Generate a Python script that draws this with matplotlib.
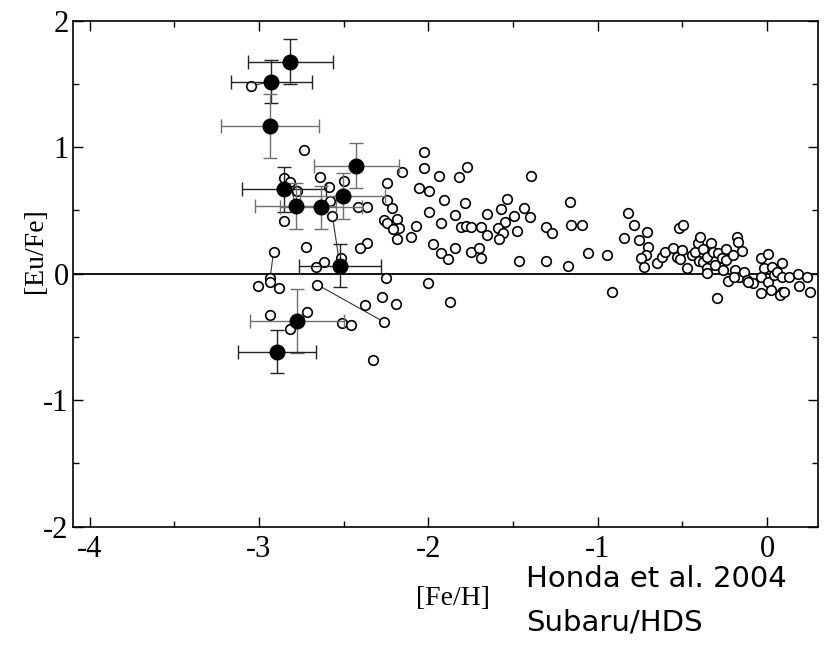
import matplotlib
matplotlib.use("Agg")
import matplotlib.pyplot as plt
from matplotlib.ticker import MultipleLocator
import numpy as np

plt.rcParams['axes.unicode_minus'] = False

# ---- data: open circles (literature sample) ----
open_x = [-3.047, -2.735, -2.154, -2.024, -2.024, -1.935, -2.056, -1.997, -1.906, -1.997,
          -2.243, -2.243, -2.217, -2.641, -2.497, -2.586, -2.853, -2.816, -2.775, -1.922,
          -1.975, -1.922, -1.882, -2.264, -2.246, -2.183, -2.173, -2.210, -2.183, -2.105,
          -2.074, -2.361, -2.404, -2.414, -2.361, -2.582, -2.566, -2.853, -2.725, -2.914,
          -2.517, -2.616, -2.665, -2.934, -2.934, -3.005, -2.883, -2.655, -2.252, -2.004,
          -2.276, -2.193, -2.374, -2.264, -2.716, -2.936, -2.815, -2.507, -2.454, -2.326,
          -1.870,
          -1.774, -1.817, -1.394, -1.785, -1.535, -1.843, -1.652, -1.573, -1.435, -1.492,
          -1.400, -1.546, -1.807, -1.777, -1.748, -1.689, -1.590, -1.561, -1.652, -1.581,
          -1.479, -1.843, -1.748, -1.700, -1.689, -1.465, -1.305, -1.271, -1.163, -1.157,
          -1.094, -1.305, -1.173, -1.055, -0.946, -0.822, -0.783, -0.844, -0.753, -0.710,
          -0.700, -0.714, -0.746, -0.725, -0.913,
          -0.651, -0.621, -0.602, -0.556, -0.532, -0.503, -0.513, -0.517, -0.493, -0.474,
          -0.444, -0.424, -0.405, -0.395, -0.400, -0.380, -0.380, -0.353, -0.333, -0.321,
          -0.353, -0.356, -0.307, -0.287, -0.267, -0.294, -0.262, -0.243, -0.243, -0.229,
          -0.203, -0.179, -0.173, -0.150, -0.189, -0.163, -0.134, -0.196, -0.120, -0.080,
          -0.110, -0.037, 0.008, -0.020, -0.034, -0.034, 0.008, 0.023, 0.029, 0.039,
          0.058, 0.088, 0.088, 0.088, 0.078, 0.098, 0.128, 0.182, 0.187, 0.236, 0.256]
open_y = [1.486, 0.978, 0.806, 0.964, 0.838, 0.775, 0.675, 0.654, 0.583, 0.488,
          0.715, 0.583, 0.522, 0.767, 0.733, 0.688, 0.754, 0.722, 0.656, 0.398,
          0.235, 0.166, 0.116, 0.424, 0.403, 0.432, 0.364, 0.351, 0.277, 0.292,
          0.375, 0.245, 0.206, 0.527, 0.527, 0.575, 0.456, 0.417, 0.213, 0.171,
          0.126, 0.092, 0.055, -0.032, -0.068, -0.095, -0.116, -0.087, -0.034, -0.076,
          -0.184, -0.237, -0.248, -0.380, -0.300, -0.326, -0.440, -0.392, -0.408, -0.685,
          -0.226,
          0.846, 0.767, 0.775, 0.561, 0.593, 0.464, 0.472, 0.509, 0.517, 0.456,
          0.446, 0.409, 0.367, 0.377, 0.367, 0.372, 0.359, 0.324, 0.306, 0.272,
          0.338, 0.206, 0.174, 0.200, 0.126, 0.103, 0.367, 0.324, 0.569, 0.385,
          0.385, 0.103, 0.063, 0.166, 0.148, 0.477, 0.385, 0.280, 0.267, 0.332,
          0.213, 0.148, 0.122, 0.056, -0.142,
          0.082, 0.134, 0.174, 0.206, 0.130, 0.187, 0.116, 0.364, 0.385, 0.043,
          0.148, 0.174, 0.240, 0.292, 0.100, 0.193, 0.095, 0.130, 0.240, 0.174,
          0.043, 0.004, 0.069, 0.166, 0.126, -0.195, 0.029, 0.193, 0.110, -0.054,
          0.148, 0.288, 0.254, 0.180, 0.029, -0.024, 0.016, -0.024, -0.050, -0.076,
          -0.063, 0.122, 0.156, 0.043, -0.024, -0.155, -0.063, -0.129, 0.056, -0.010,
          0.016, 0.087, -0.024, -0.142, -0.168, -0.142, -0.024, -0.005, -0.095, -0.024, -0.142]

# ---- data: filled circles (this work, with errors) ----
filled_x = [-2.814, -2.926, -2.936, -2.424, -2.853, -2.784, -2.633, -2.505, -2.522, -2.775, -2.893]
filled_y = [1.676, 1.518, 1.168, 0.854, 0.667, 0.535, 0.525, 0.614, 0.063, -0.374, -0.619]
filled_xerr = [0.25, 0.24, 0.29, 0.25, 0.25, 0.24, 0.24, 0.25, 0.24, 0.28, 0.23]
filled_yerr = [0.18, 0.17, 0.25, 0.18, 0.18, 0.18, 0.17, 0.18, 0.17, 0.25, 0.17]
err_dark = [True, True, False, False, True, False, False, False, True, False, True]

# ---- data: thin lines linking different analyses of the same star ----
link_x0 = [-3.047, -2.566, -2.914, -2.655, -2.816]
link_y0 = [1.486, 0.456, 0.171, -0.087, 0.722]
link_x1 = [-2.926, -2.522, -2.934, -2.264, -2.784]
link_y1 = [1.518, 0.063, -0.032, -0.380, 0.535]

fig = plt.figure(figsize=(8.26, 6.46), dpi=100)
ax = fig.add_axes([0.088, 0.1847, 0.902, 0.7833])

ax.axhline(0, color='black', lw=1.3, zorder=1)

for x0, y0, x1, y1 in zip(link_x0, link_y0, link_x1, link_y1):
    ax.plot([x0, x1], [y0, y1], color='#333333', lw=0.8, zorder=2)

ax.plot(open_x, open_y, linestyle='none', marker='o', ms=6.9, mfc='white',
        mec='black', mew=1.2, zorder=3)

for x, y, xe, ye, dark in zip(filled_x, filled_y, filled_xerr, filled_yerr, err_dark):
    c = '#222222' if dark else '#707070'
    ax.errorbar(x, y, xerr=xe, yerr=ye, fmt='none', ecolor=c, elinewidth=1.0,
                capsize=5, capthick=1.0, zorder=4)
ax.plot(filled_x, filled_y, linestyle='none', marker='o', ms=10.5, mfc='black',
        mec='black', zorder=5)

ax.set_xlim(-4.1, 0.3)
ax.set_ylim(-2, 2)
ax.xaxis.set_major_locator(MultipleLocator(1))
ax.xaxis.set_minor_locator(MultipleLocator(0.5))
ax.yaxis.set_major_locator(MultipleLocator(1))
ax.yaxis.set_minor_locator(MultipleLocator(0.5))
ax.tick_params(which='both', direction='in', top=True, right=True, width=1.0)
ax.tick_params(which='major', length=7)
ax.tick_params(which='minor', length=4)
ax.tick_params(axis='both', which='major', labelsize=22)
ax.tick_params(axis='x', which='major', pad=6)
ax.tick_params(axis='y', which='major', pad=3)
for lab in ax.get_xticklabels() + ax.get_yticklabels():
    lab.set_family('Liberation Serif')
for s in ax.spines.values():
    s.set_linewidth(1.2)

ax.set_xlabel('[Fe/H]', fontsize=20, family='Liberation Serif')
ax.set_ylabel('[Eu/Fe]', fontsize=20, family='Liberation Serif')
ax.xaxis.set_label_coords(0.51, -0.118)
ax.yaxis.set_label_coords(-0.033, 0.545)

fig.text(0.637, 0.103, 'Honda et al. 2004', fontsize=21, family='DejaVu Sans',
         va='center', ha='left')
fig.text(0.637, 0.037, 'Subaru/HDS', fontsize=21, family='DejaVu Sans',
         va='center', ha='left')

fig.savefig('out.png', dpi=100)
